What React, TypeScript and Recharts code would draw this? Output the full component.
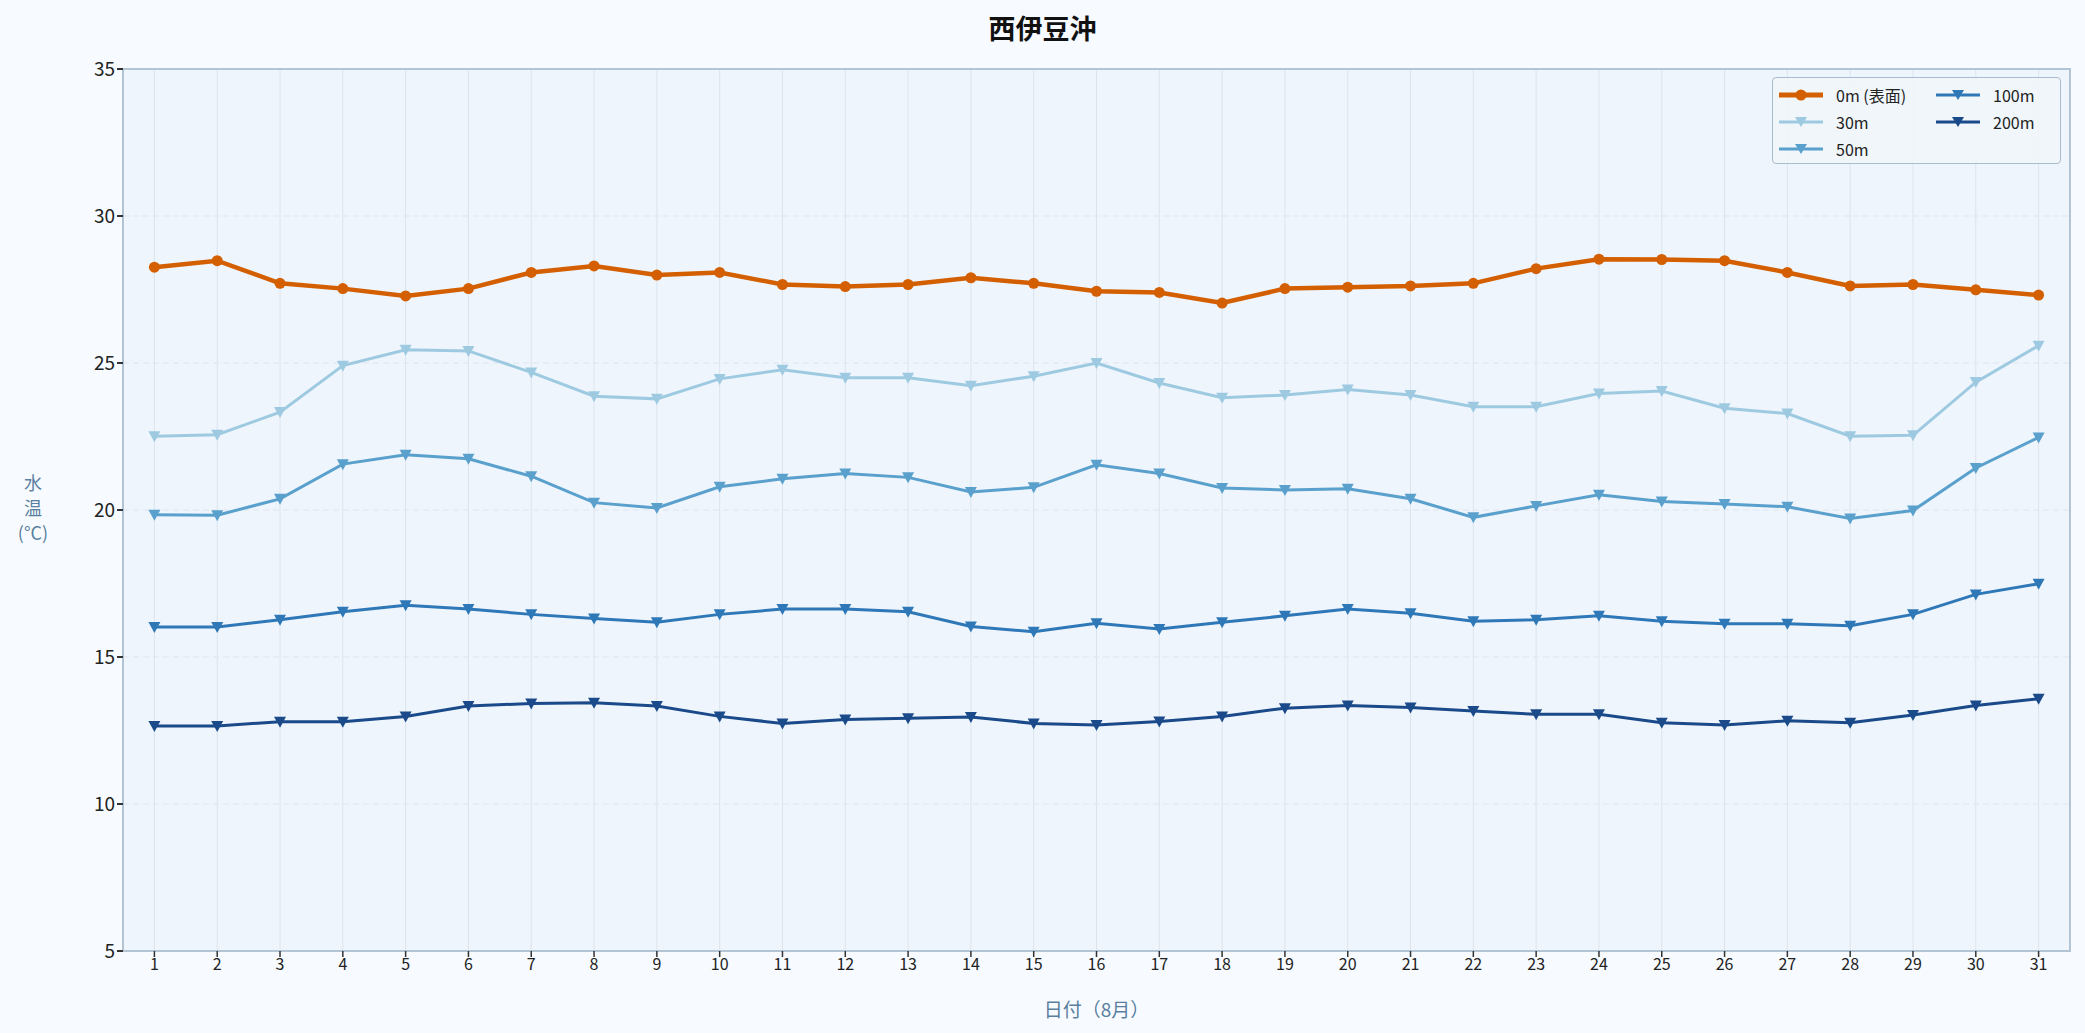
import React from 'react';
import { LineChart, Line, XAxis, YAxis, CartesianGrid, ReferenceArea } from 'recharts';

const days = [1,2,3,4,5,6,7,8,9,10,11,12,13,14,15,16,17,18,19,20,21,22,23,24,25,26,27,28,29,30,31];
const d0 = [28.26,28.48,27.71,27.53,27.28,27.53,28.08,28.30,27.99,28.08,27.67,27.60,27.67,27.90,27.71,27.44,27.40,27.04,27.53,27.58,27.62,27.71,28.21,28.53,28.52,28.48,28.08,27.62,27.67,27.49,27.31];
const d30 = [22.51,22.56,23.33,24.91,25.45,25.41,24.68,23.87,23.78,24.46,24.77,24.50,24.50,24.23,24.55,25.00,24.32,23.82,23.91,24.10,23.91,23.51,23.51,23.96,24.05,23.46,23.28,22.51,22.54,24.35,25.59];
const d50 = [19.84,19.82,20.38,21.56,21.88,21.74,21.15,20.25,20.07,20.79,21.06,21.24,21.11,20.61,20.77,21.54,21.24,20.75,20.68,20.72,20.38,19.75,20.14,20.52,20.29,20.20,20.11,19.71,19.98,21.43,22.47];
const d100 = [16.02,16.02,16.27,16.54,16.76,16.63,16.45,16.31,16.18,16.45,16.63,16.63,16.54,16.04,15.86,16.15,15.95,16.18,16.40,16.63,16.49,16.22,16.27,16.40,16.22,16.13,16.13,16.06,16.45,17.13,17.49];
const d200 = [12.65,12.65,12.80,12.80,12.98,13.33,13.42,13.44,13.33,12.98,12.74,12.87,12.92,12.96,12.74,12.69,12.81,12.98,13.26,13.35,13.28,13.16,13.05,13.05,12.76,12.69,12.83,12.76,13.03,13.35,13.58];
const yTicks = [5,10,15,20,25,30,35];
const xLabel = '日付（8月）';
const yLabelLines = ['水', '温', '(°C)'];
const title = '西伊豆沖';

const seriesDefs = [
  { key: 's0', name: '0m (表面)', values: d0, color: '#d35f00', width: 4.5, marker: 'circle' },
  { key: 's30', name: '30m', values: d30, color: '#9ecae1', width: 3, marker: 'tri' },
  { key: 's50', name: '50m', values: d50, color: '#5aa0cd', width: 3, marker: 'tri' },
  { key: 's100', name: '100m', values: d100, color: '#2e78b8', width: 3, marker: 'tri' },
  { key: 's200', name: '200m', values: d200, color: '#1a4a8a', width: 3, marker: 'tri' },
];

const data = days.map((d, i) => {
  const row: any = { day: d };
  seriesDefs.forEach(s => { row[s.key] = s.values[i]; });
  return row;
});

const FONT = '"Noto Sans CJK JP", "Noto Sans", sans-serif';

const TriDot = (color: string) => (props: any) => {
  const { cx, cy } = props;
  if (cx == null || cy == null) return null;
  const w = 6, h = 5;
  return <polygon key={`${cx}-${cy}`} points={`${cx - w},${cy - h} ${cx + w},${cy - h} ${cx},${cy + h + 1}`} fill={color} />;
};

const CircleDot = (color: string) => (props: any) => {
  const { cx, cy } = props;
  if (cx == null || cy == null) return null;
  return <circle key={`${cx}-${cy}`} cx={cx} cy={cy} r={5.5} fill={color} />;
};

const LegendIcon = ({ s }: { s: any }) => (
  <svg width={44} height={14} style={{ display: 'block' }}>
    <line x1={0} y1={7} x2={44} y2={7} stroke={s.color} strokeWidth={s.marker === 'circle' ? 5 : 3} />
    {s.marker === 'circle'
      ? <circle cx={22} cy={7} r={5.5} fill={s.color} />
      : <polygon points="16,2 28,2 22,12" fill={s.color} />}
  </svg>
);

const LegendBox = () => {
  const col1 = [seriesDefs[0], seriesDefs[1], seriesDefs[2]];
  const col2 = [seriesDefs[3], seriesDefs[4]];
  const item = (s: any) => (
    <div key={s.key} style={{ display: 'flex', alignItems: 'center', height: 27 }}>
      <LegendIcon s={s} />
      <span style={{ marginLeft: 13, fontSize: 16, color: '#222', fontFamily: FONT, whiteSpace: 'nowrap' }}>{s.name}</span>
    </div>
  );
  return (
    <div style={{
      position: 'absolute', left: 1772, top: 77,
      display: 'flex', gap: 30, padding: '3px 10px 3px 6px', background: 'rgba(240,245,250,0.92)',
      border: '1.5px solid #a9bccd', borderRadius: 4, boxSizing: 'border-box', width: 289, height: 87,
    }}>
      <div>{col1.map(item)}</div>
      <div>{col2.map(item)}</div>
    </div>
  );
};

const YLabel = (props: any) => {
  const { viewBox } = props;
  const cy = viewBox.y + viewBox.height / 2;
  return (
    <text x={33} y={cy} textAnchor="middle" fill="#5a7fa0" fontSize={18} fontFamily={FONT}>
      {yLabelLines.map((t, i) => (
        <tspan key={i} x={33} dy={i === 0 ? -20 : 25}>{t}</tspan>
      ))}
    </text>
  );
};

export default function App() {
  return (
    <div style={{ position: 'absolute', left: 0, top: 0, width: 2085, height: 1033, background: '#f7fbff', fontFamily: FONT }}>
      <div style={{ position: 'absolute', top: 8, width: '100%', textAlign: 'center', fontSize: 27, fontWeight: 700, color: '#111', fontFamily: FONT }}>{title}</div>
      <LineChart width={2085} height={1033} data={data} margin={{ top: 69, right: 15, bottom: 42, left: 63 }}>
        <CartesianGrid vertical={true} horizontal={false} stroke="#dbe4ee" strokeWidth={1} fill="#eff5fc" />
        <CartesianGrid vertical={false} horizontal={true} stroke="#dde5ef" strokeDasharray="6 4" strokeWidth={1} />
        <XAxis
          dataKey="day" type="number" domain={[0.5, 31.5]} ticks={days} interval={0}
          height={40} axisLine={{ stroke: '#b3c4d4', strokeWidth: 2 }} tickLine={{ stroke: '#333', strokeWidth: 1.5 }}
          tickSize={6} tick={{ fill: '#222', fontSize: 16, fontFamily: FONT }} allowDataOverflow
          label={{ value: xLabel, position: 'insideBottom', offset: -26, fill: '#5a7fa0', fontSize: 19, fontFamily: FONT }}
        />
        <YAxis
          type="number" domain={[5, 35]} ticks={yTicks} interval={0} width={60}
          axisLine={{ stroke: '#b3c4d4', strokeWidth: 2 }} tickLine={{ stroke: '#333', strokeWidth: 2 }}
          tickSize={6} tick={{ fill: '#222', fontSize: 19, fontFamily: FONT }}
          label={<YLabel />}
        />
        <ReferenceArea x1={0.5} x2={31.5} y1={5} y2={35} fill="none" stroke="#b3c4d4" strokeWidth={2} ifOverflow="extendDomain" />
        {seriesDefs.map(s => (
          <Line
            key={s.key} dataKey={s.key} name={s.name} stroke={s.color} strokeWidth={s.width}
            dot={s.marker === 'circle' ? CircleDot(s.color) : TriDot(s.color)}
            activeDot={false} isAnimationActive={false} type="linear"
          />
        ))}
      </LineChart>
      <LegendBox />
    </div>
  );
}
